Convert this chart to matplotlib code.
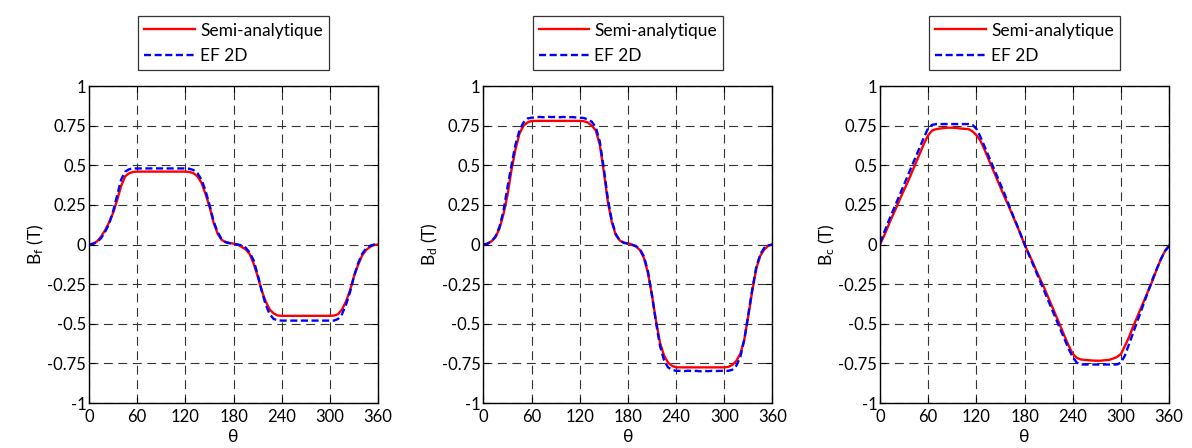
import matplotlib
matplotlib.use('Agg')
import matplotlib.pyplot as plt
import numpy as np

plt.rcParams['font.family'] = ['Lato', 'DejaVu Sans']
plt.rcParams['axes.unicode_minus'] = False
plt.rcParams['mathtext.default'] = 'regular'

# angle, every 5 degrees from 0 to 360
theta = list(range(0, 365, 5))

# Bf
bf_semi = [0.0, 0.005, 0.02, 0.05, 0.09, 0.14, 0.2, 0.28, 0.37, 0.43, 0.45, 0.458,
           0.46, 0.46, 0.46, 0.46, 0.46, 0.46, 0.46, 0.46, 0.46, 0.46, 0.46, 0.46, 0.46,
           0.458, 0.45, 0.43, 0.39, 0.32, 0.24, 0.14, 0.07, 0.03, 0.015, 0.01, 0.005,
           0.0, -0.015, -0.03, -0.06, -0.12, -0.2, -0.29, -0.36, -0.41, -0.435, -0.448,
           -0.45, -0.45, -0.45, -0.45, -0.45, -0.45, -0.45, -0.45, -0.45, -0.45, -0.45, -0.45, -0.45,
           -0.448, -0.44, -0.41, -0.36, -0.29, -0.2, -0.13, -0.07, -0.035, -0.015, -0.003, 0.0]
bf_ef = [0.0, 0.005, 0.015, 0.04, 0.08, 0.13, 0.21, 0.31, 0.41, 0.46, 0.475, 0.48,
         0.48, 0.48, 0.48, 0.48, 0.48, 0.48, 0.48, 0.48, 0.48, 0.48, 0.48, 0.48, 0.48,
         0.478, 0.47, 0.45, 0.41, 0.34, 0.25, 0.15, 0.08, 0.035, 0.015, 0.008, 0.005,
         0.0, -0.005, -0.02, -0.05, -0.1, -0.19, -0.29, -0.38, -0.44, -0.47, -0.478,
         -0.48, -0.48, -0.48, -0.48, -0.48, -0.48, -0.48, -0.48, -0.48, -0.48, -0.48, -0.48, -0.48,
         -0.48, -0.47, -0.44, -0.38, -0.3, -0.2, -0.12, -0.06, -0.025, -0.008, 0.0, 0.0]

# Bd
bd_semi = [0.0, 0.005, 0.02, 0.045, 0.1, 0.19, 0.31, 0.47, 0.6, 0.7, 0.75, 0.77,
           0.78, 0.78, 0.78, 0.78, 0.78, 0.78, 0.78, 0.78, 0.78, 0.78, 0.78, 0.78, 0.78,
           0.778, 0.77, 0.75, 0.72, 0.63, 0.46, 0.27, 0.14, 0.06, 0.025, 0.012, 0.008,
           0.0, -0.012, -0.035, -0.085, -0.18, -0.32, -0.48, -0.62, -0.7, -0.745, -0.765,
           -0.775, -0.775, -0.775, -0.775, -0.775, -0.775, -0.775, -0.775, -0.775, -0.775, -0.775, -0.775, -0.775,
           -0.772, -0.76, -0.735, -0.69, -0.6, -0.45, -0.29, -0.15, -0.07, -0.03, -0.008, 0.0]
bd_ef = [0.0, 0.005, 0.02, 0.05, 0.11, 0.21, 0.36, 0.5, 0.63, 0.72, 0.77, 0.795,
         0.8, 0.802, 0.805, 0.803, 0.806, 0.804, 0.805, 0.803, 0.805, 0.802, 0.804, 0.802, 0.8,
         0.798, 0.79, 0.775, 0.74, 0.65, 0.48, 0.29, 0.15, 0.065, 0.025, 0.01, 0.005,
         -0.002, -0.01, -0.03, -0.075, -0.17, -0.32, -0.49, -0.64, -0.73, -0.775, -0.79,
         -0.797, -0.797, -0.799, -0.796, -0.799, -0.797, -0.8, -0.797, -0.799, -0.797, -0.798, -0.797, -0.797,
         -0.797, -0.79, -0.765, -0.71, -0.6, -0.44, -0.28, -0.14, -0.06, -0.02, -0.005, 0.0]

# Bc
bc_semi = [0.0, 0.055, 0.115, 0.175, 0.23, 0.29, 0.345, 0.4, 0.46, 0.52, 0.58, 0.64,
           0.69, 0.72, 0.728, 0.732, 0.735, 0.737, 0.737, 0.735, 0.732, 0.73, 0.728, 0.715, 0.69,
           0.655, 0.6, 0.54, 0.48, 0.42, 0.36, 0.3, 0.245, 0.185, 0.125, 0.065, 0.0,
           -0.055, -0.11, -0.17, -0.225, -0.28, -0.34, -0.4, -0.46, -0.52, -0.58, -0.64,
           -0.69, -0.715, -0.725, -0.728, -0.73, -0.732, -0.733, -0.733, -0.73, -0.728, -0.72, -0.71, -0.69,
           -0.64, -0.585, -0.52, -0.46, -0.4, -0.34, -0.28, -0.22, -0.15, -0.09, -0.04, -0.005]
bc_ef = [0.01, 0.075, 0.14, 0.2, 0.26, 0.32, 0.38, 0.44, 0.5, 0.56, 0.62, 0.68,
         0.735, 0.755, 0.76, 0.76, 0.76, 0.76, 0.76, 0.76, 0.76, 0.76, 0.76, 0.755, 0.73,
         0.68, 0.62, 0.56, 0.5, 0.44, 0.38, 0.32, 0.255, 0.19, 0.13, 0.065, 0.0,
         -0.06, -0.12, -0.18, -0.24, -0.3, -0.36, -0.42, -0.48, -0.54, -0.6, -0.66,
         -0.71, -0.745, -0.757, -0.757, -0.757, -0.757, -0.757, -0.757, -0.757, -0.757, -0.757, -0.757, -0.745,
         -0.7, -0.63, -0.56, -0.49, -0.42, -0.35, -0.28, -0.21, -0.15, -0.09, -0.04, -0.01]

xticks = [0, 60, 120, 180, 240, 300, 360]
yticks = [-1, -0.75, -0.5, -0.25, 0, 0.25, 0.5, 0.75, 1]
ytick_labels = ['-1', '-0.75', '-0.5', '-0.25', '0', '0.25', '0.5', '0.75', '1']

panels = [(bf_semi, bf_ef, 'f'), (bd_semi, bd_ef, 'd'), (bc_semi, bc_ef, 'c')]
lefts = [0.0747, 0.4055, 0.7383]

fig = plt.figure(figsize=(11.92, 4.48), dpi=100)

for (semi, ef, sub), left in zip(panels, lefts):
    ax = fig.add_axes([left, 0.1004, 0.2425, 0.7076])
    ax.plot(theta, semi, '-', color='#ff0000', lw=1.7, label='Semi-analytique')
    ax.plot(theta, ef, color='#0000ff', lw=1.7, linestyle=(0, (3, 1.5)), label='EF 2D')
    ax.set_xlim(0, 360)
    ax.set_ylim(-1, 1)
    ax.set_xticks(xticks)
    ax.set_yticks(yticks)
    ax.set_yticklabels(ytick_labels)
    ax.grid(True, color='#333333', linestyle=(0, (8, 5)), linewidth=0.8)
    ax.tick_params(direction='in', length=4, width=0.8, top=True, right=True,
                   labelsize=12, colors='black', pad=2)
    ax.tick_params(axis='x', pad=4)
    for sp in ax.spines.values():
        sp.set_linewidth(1.0)
    ax.set_xlabel('θ', fontsize=12.5, labelpad=3)
    ax.set_ylabel('B$_{' + sub + '}$ (T)', fontsize=12.5, labelpad=1)
    leg = ax.legend(loc='lower center', bbox_to_anchor=(0.5, 1.05), fontsize=12.5,
                    frameon=True, fancybox=False, handlelength=2.9, handletextpad=0.3,
                    borderpad=0.35, labelspacing=0.55, borderaxespad=0)
    leg.get_frame().set_edgecolor('black')
    leg.get_frame().set_linewidth(0.9)

fig.savefig('out.png', dpi=100)
